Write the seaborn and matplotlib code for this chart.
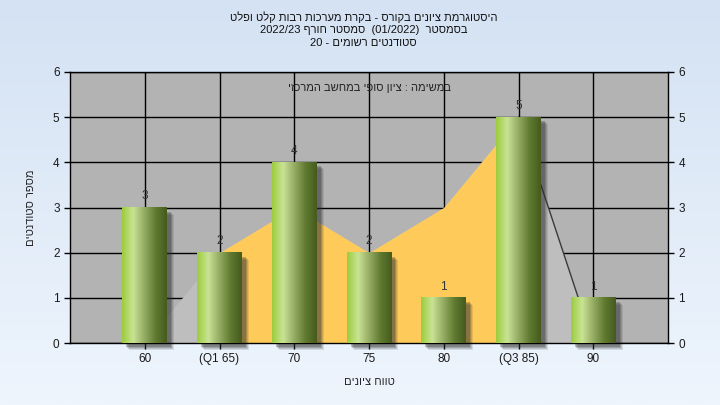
import re
import numpy as np
import matplotlib
matplotlib.use("Agg")
import matplotlib.pyplot as plt
import matplotlib.transforms as mtransforms
from matplotlib.colors import LinearSegmentedColormap
from matplotlib.patches import Rectangle
import seaborn as sns

# data
tick_labels = ["60", "(Q1 65)", "70", "75", "80", "(Q3 85)", "90"]
counts = [3, 2, 4, 2, 1, 5, 1]
spread_values = [0, 2, 3, 2, 3, 5, 0]      # light gray area
iqr_values = [2, 3, 2, 3, 5]               # yellow area between Q1 and Q3
iqr_start = 1

title_lines = ["היסטוגרמת ציונים בקורס - בקרת מערכות רבות קלט ופלט",
               "בסמסטר  (01/2022)  סמסטר חורף 2022/23",
               "סטודנטים רשומים - 20"]
note_text = "במשימה : ציון סופי במחשב המרכזי"
x_title = "טווח ציונים"
y_title = "מספר סטודנטים"


def rtl(s):
    # matplotlib has no bidi support: put hebrew in visual order, keep numbers LTR
    r = s[::-1]
    r = re.sub(r"[0-9A-Za-z/.]+", lambda m: m.group(0)[::-1], r)
    return r.translate(str.maketrans("()", ")("))


sns.set_style("white")
plt.rcParams["font.family"] = ["Liberation Sans", "DejaVu Sans"]

fig = plt.figure(figsize=(7.2, 4.05), dpi=100)

# light blue gradient background
bg = fig.add_axes([0, 0, 1, 1], zorder=-10)
grad = np.linspace(0, 1, 256).reshape(-1, 1)
bg_cmap = LinearSegmentedColormap.from_list("bg", ["#d4e2f3", "#eef5fd"])
bg.imshow(grad, cmap=bg_cmap, aspect="auto", extent=[0, 1, 0, 1], origin="upper")
bg.axis("off")

ax = fig.add_axes([70 / 720, 62 / 405, 598 / 720, 271 / 405])
ax.set_facecolor("#b3b3b3")

df_x = np.arange(len(tick_labels))
sns.barplot(x=tick_labels, y=counts, order=tick_labels, width=0.6, ax=ax,
            color="#9ccc3c", zorder=3, saturation=1)

# areas behind the bars
ax.fill_between(df_x, spread_values, 0, color="#bebebe", zorder=1, linewidth=0)
ix = np.arange(iqr_start, iqr_start + len(iqr_values))
ax.fill_between(ix, iqr_values, 0, color="#fecb5a", zorder=1.2, linewidth=0)
ax.plot(df_x[-2:], spread_values[-2:], color="#3a3a3a", lw=1, zorder=1.3)

# cylinder-like gradient on the bars, with a soft shadow
bar_cmap = LinearSegmentedColormap.from_list(
    "bar", ["#9ccc3c", "#c9e395", "#94ab62", "#5f7a30", "#455a1e"])
hgrad = np.linspace(0, 1, 256).reshape(1, -1)
for p in list(ax.patches):
    x0, w, h = p.get_x(), p.get_width(), p.get_height()
    p.set_facecolor("none")
    p.set_edgecolor("none")
    for k, a in [(7, 0.12), (6, 0.15), (5, 0.2), (4, 0.28)]:
        tr = mtransforms.offset_copy(ax.transData, fig=fig, x=k, y=-k, units="dots")
        ax.add_patch(Rectangle((x0, 0), w, h, transform=tr, facecolor="#303030",
                               alpha=a, edgecolor="none", zorder=2.5, clip_on=False))
    ax.imshow(hgrad, cmap=bar_cmap, aspect="auto", extent=[x0, x0 + w, 0, h],
              zorder=3, interpolation="bilinear")
    ax.text(x0 + w / 2, h + 0.25, str(int(h)), ha="center", va="center",
            fontsize=8.5, color="#333333", zorder=4)

ax.set_xlim(-1, 7)
ax.set_ylim(0, 6)
ax.set_xticks(df_x)
ax.set_xticklabels(tick_labels)
ax.set_yticks(range(0, 7))
ax.grid(True, color="black", lw=1)
ax.set_axisbelow(True)
for s in ax.spines.values():
    s.set_color("black")
    s.set_linewidth(1)
ax.tick_params(axis="both", direction="out", length=4, width=1, color="black",
               labelsize=8.5, labelcolor="#1a1a1a")
ax.tick_params(axis="y", right=True, labelright=True, left=True)
ax.tick_params(axis="x", bottom=True)

ax.set_xlabel(rtl(x_title), fontsize=8, labelpad=8)
ax.set_ylabel(rtl(y_title), fontsize=8, labelpad=12)

ax.text(0.5, 0.94, rtl(note_text), transform=ax.transAxes, ha="center", va="center",
        fontsize=8, color="#222222", zorder=5)

for i, line in enumerate(title_lines):
    fig.text(0.505, 1 - (17 + 13 * i) / 405, rtl(line), ha="center", va="center",
             fontsize=8, color="#111111")

fig.savefig("out.png", dpi=100)
